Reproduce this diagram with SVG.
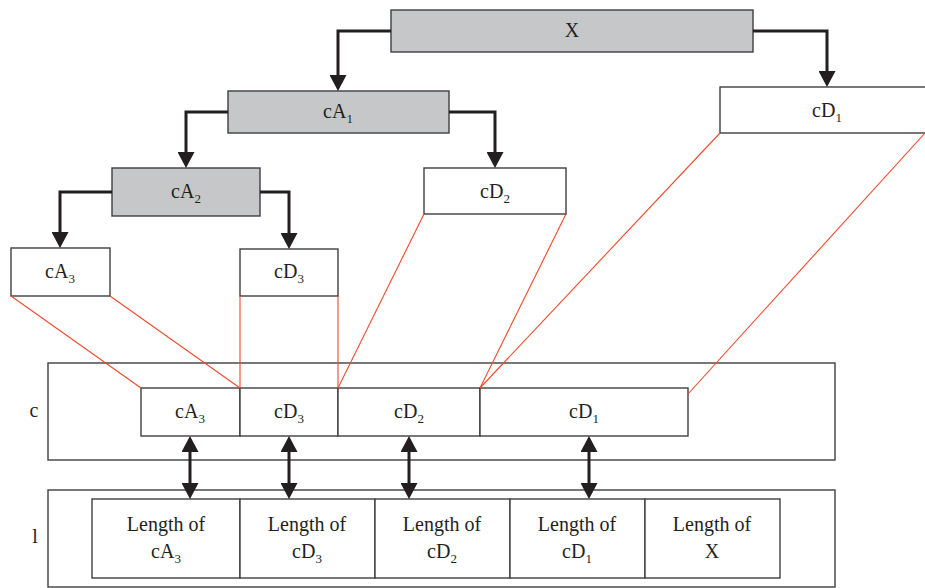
<svg xmlns="http://www.w3.org/2000/svg" width="925" height="588" viewBox="0 0 925 588">
<style>
.bx{fill:#fff;stroke:#3f3f40;stroke-width:1.4}
.gr{fill:#c6c7c9;stroke:#3f3f40;stroke-width:1.4}
.t{font-family:"Liberation Serif",serif;font-size:20px;fill:#231f20;text-anchor:middle}
.s{font-size:13px}
.ar{fill:none;stroke:#231f20;stroke-width:3}
.rd{stroke:#ef4a2c;stroke-width:1.1;fill:none}
</style>
<defs>
<marker id="ah" markerUnits="userSpaceOnUse" viewBox="0 0 16 17" markerWidth="16" markerHeight="17" refX="1" refY="8.5" orient="auto-start-reverse">
<path d="M0,0 L16,8.5 L0,17 z" fill="#231f20"/>
</marker>
</defs>
<g id="X"><rect class="gr" x="391" y="10" width="362" height="42"/><text class="t" x="572" y="37">X</text></g>
<g id="cA1"><rect class="gr" x="228" y="91" width="221" height="42"/><text class="t" x="338" y="118">cA<tspan class="s" dy="5">1</tspan></text></g>
<g id="cD1"><rect class="bx" x="720" y="87" width="206" height="46"/><text class="t" x="827" y="117">cD<tspan class="s" dy="5">1</tspan></text></g>
<g id="cA2"><rect class="gr" x="112" y="168" width="148" height="48"/><text class="t" x="186" y="198">cA<tspan class="s" dy="5">2</tspan></text></g>
<g id="cD2"><rect class="bx" x="424" y="168" width="142" height="46"/><text class="t" x="495" y="198">cD<tspan class="s" dy="5">2</tspan></text></g>
<g id="cA3"><rect class="bx" x="11" y="248" width="99" height="48"/><text class="t" x="60" y="278">cA<tspan class="s" dy="5">3</tspan></text></g>
<g id="cD3"><rect class="bx" x="240" y="249" width="98" height="47"/><text class="t" x="289" y="278">cD<tspan class="s" dy="5">3</tspan></text></g>
<g id="c">
<rect class="bx" x="48" y="363" width="787" height="97"/>
<text class="t" x="34" y="417">c</text>
<rect class="bx" x="141" y="388" width="99" height="48"/><text class="t" x="190" y="418">cA<tspan class="s" dy="5">3</tspan></text>
<rect class="bx" x="240" y="388" width="98" height="48"/><text class="t" x="289" y="418">cD<tspan class="s" dy="5">3</tspan></text>
<rect class="bx" x="338" y="388" width="142" height="48"/><text class="t" x="409" y="418">cD<tspan class="s" dy="5">2</tspan></text>
<rect class="bx" x="480" y="388" width="208" height="48"/><text class="t" x="584" y="418">cD<tspan class="s" dy="5">1</tspan></text>
</g>
<g id="l">
<rect class="bx" x="48" y="490" width="787" height="97"/>
<text class="t" x="35" y="543">l</text>
<rect class="bx" x="92" y="499" width="148" height="79"/>
<text class="t" x="166" y="531">Length of</text><text class="t" x="166" y="558">cA<tspan class="s" dy="5">3</tspan></text>
<rect class="bx" x="240" y="499" width="135" height="79"/>
<text class="t" x="307" y="531">Length of</text><text class="t" x="307" y="558">cD<tspan class="s" dy="5">3</tspan></text>
<rect class="bx" x="375" y="499" width="135" height="79"/>
<text class="t" x="442" y="531">Length of</text><text class="t" x="442" y="558">cD<tspan class="s" dy="5">2</tspan></text>
<rect class="bx" x="510" y="499" width="135" height="79"/>
<text class="t" x="577" y="531">Length of</text><text class="t" x="577" y="558">cD<tspan class="s" dy="5">1</tspan></text>
<rect class="bx" x="645" y="499" width="135" height="79"/>
<text class="t" x="712" y="531">Length of</text><text class="t" x="712" y="558">X</text>
</g>
<g id="connectors">
<path class="ar" d="M391,31 H338 V76" marker-end="url(#ah)"/>
<path class="ar" d="M753,31 H827 V72" marker-end="url(#ah)"/>
<path class="ar" d="M228,112 H186 V153" marker-end="url(#ah)"/>
<path class="ar" d="M449,112 H495 V153" marker-end="url(#ah)"/>
<path class="ar" d="M112,192 H60 V233" marker-end="url(#ah)"/>
<path class="ar" d="M260,192 H289 V234" marker-end="url(#ah)"/>
<line class="ar" x1="190" y1="451" x2="190" y2="484" marker-start="url(#ah)" marker-end="url(#ah)"/>
<line class="ar" x1="289" y1="451" x2="289" y2="484" marker-start="url(#ah)" marker-end="url(#ah)"/>
<line class="ar" x1="409" y1="451" x2="409" y2="484" marker-start="url(#ah)" marker-end="url(#ah)"/>
<line class="ar" x1="589" y1="451" x2="589" y2="484" marker-start="url(#ah)" marker-end="url(#ah)"/>
<line class="rd" x1="11" y1="296" x2="141" y2="388"/>
<line class="rd" x1="110" y1="296" x2="240" y2="388"/>
<line class="rd" x1="240" y1="296" x2="240" y2="388"/>
<line class="rd" x1="338" y1="296" x2="338" y2="388"/>
<line class="rd" x1="424" y1="214" x2="338" y2="388"/>
<line class="rd" x1="566" y1="214" x2="480" y2="388"/>
<line class="rd" x1="720" y1="133" x2="480" y2="388"/>
<line class="rd" x1="925" y1="133" x2="688" y2="394"/>
</g>
</svg>
